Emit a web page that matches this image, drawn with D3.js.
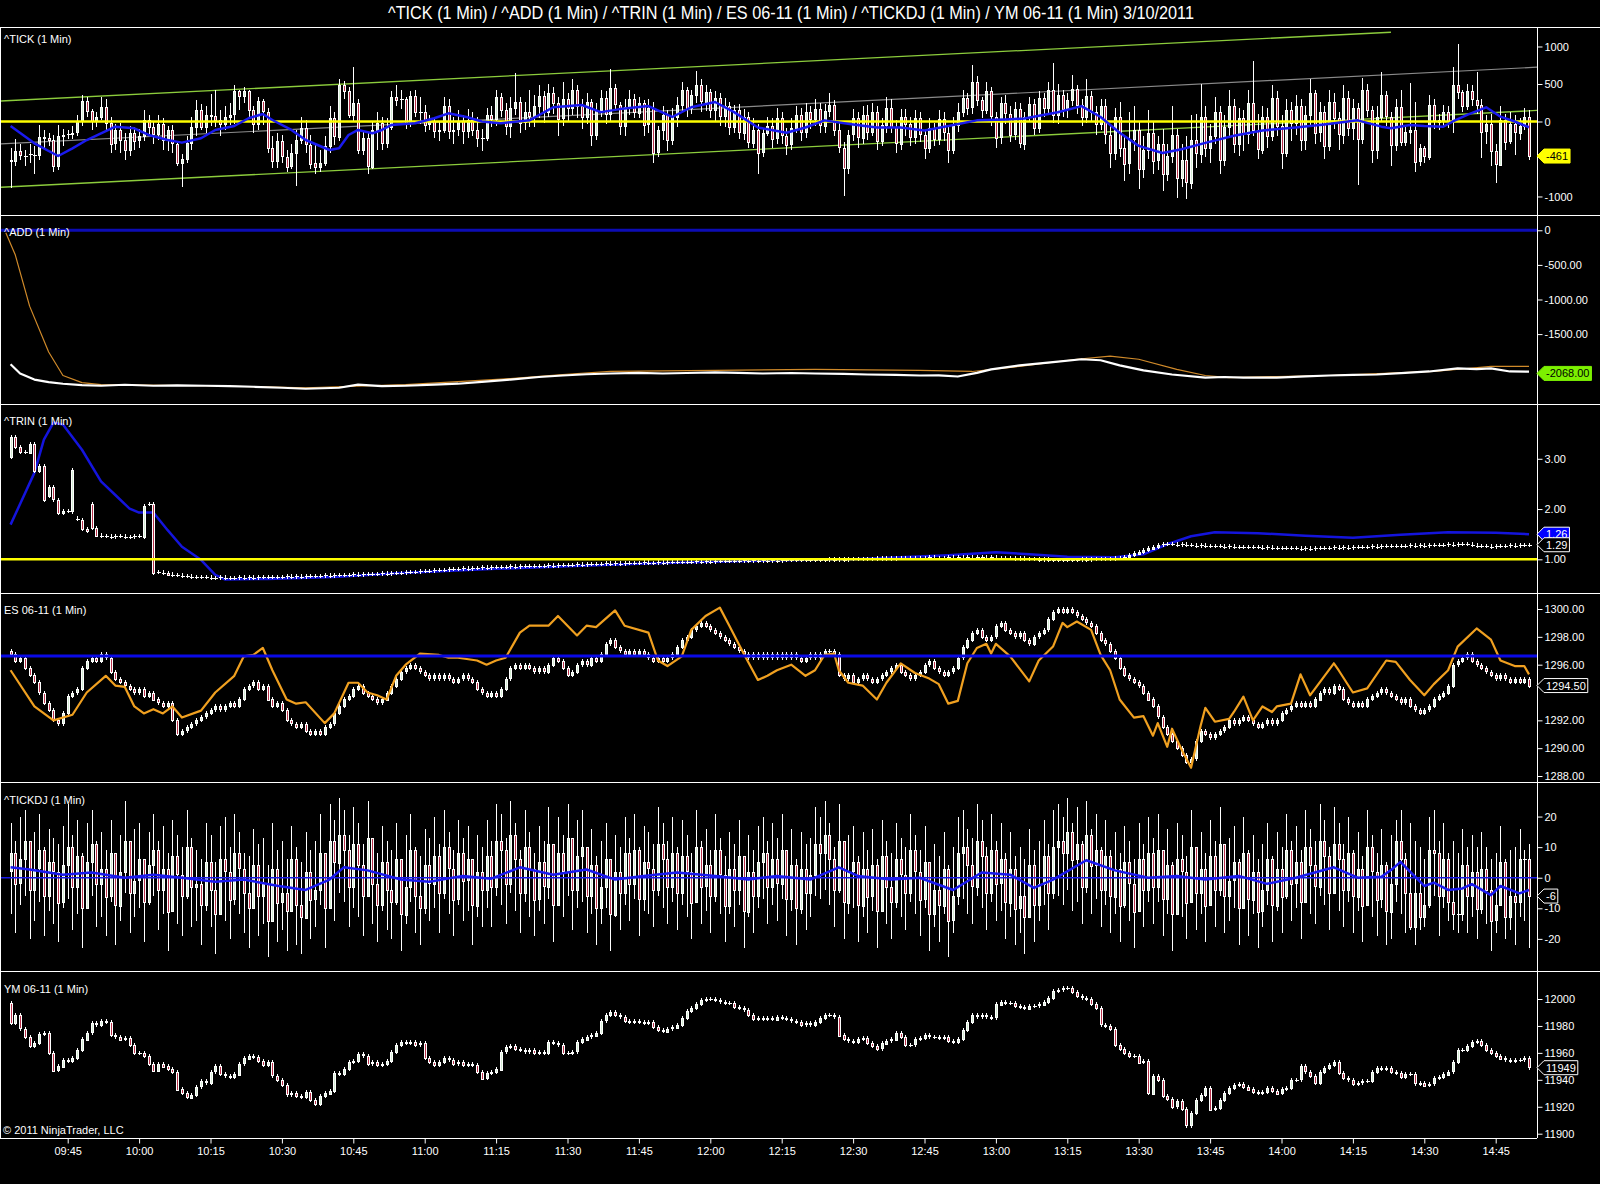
<!DOCTYPE html>
<html><head><meta charset="utf-8">
<script src="https://cdn.jsdelivr.net/npm/d3@7"></script>
<style>
html,body{margin:0;padding:0;background:#000;}
svg{display:block;}
text{font-family:"Liberation Sans",Arial,sans-serif;}
</style></head><body>
<svg id="c" width="1600" height="1184"></svg>
<script>
// ---------------- DATA (1-minute bars, 09:33 .. 14:52) ----------------
const firstBar = "09:33";
const titleText = "^TICK (1 Min) / ^ADD (1 Min) / ^TRIN (1 Min) / ES 06-11 (1 Min) / ^TICKDJ (1 Min) / YM 06-11 (1 Min)  3/10/2011";
const panelNames = ["^TICK (1 Min)","^ADD (1 Min)","^TRIN (1 Min)","ES 06-11 (1 Min)","^TICKDJ (1 Min)","YM 06-11 (1 Min)"];
const xTickTimes = ["09:45","10:00","10:15","10:30","10:45","11:00","11:15","11:30","11:45","12:00","12:15","12:30","12:45","13:00","13:15","13:30","13:45","14:00","14:15","14:30","14:45"];

// ^TICK
const tickFirstOpen = -510;
const tickClose = [
-530,-400,-450,-455,-440,-445,-205,-225,-250,-600,
-200,-180,-170,-150,0,270,135,0,60,190,
-20,-300,-120,-250,-380,-150,-260,-200,20,-80,
-180,-40,-250,-120,-300,-555,-500,-290,-70,155,
-70,90,70,20,-40,60,90,400,330,400,
150,-40,270,130,-355,-530,-265,-470,-600,-420,
-245,-90,-310,-560,-620,-560,-330,45,-200,490,
410,90,245,-380,-220,-600,-110,-20,-290,-70,
333,290,300,-22,340,133,130,-44,0,-130,
-110,210,-130,-110,0,-130,20,-110,-220,-220,
90,30,320,150,-60,180,260,-20,120,60,
200,340,120,380,250,40,300,180,420,210,
60,260,-180,150,310,90,440,220,-60,190,
300,120,250,-40,180,-420,-120,80,-250,60,
220,420,180,350,480,260,390,150,310,70,
200,-80,150,-150,60,-280,-110,-420,-160,-60,
-230,40,-190,-310,-90,80,-150,120,20,160,
-60,140,220,-120,-350,-620,-180,40,-220,90,
-140,130,-260,-50,180,-80,-300,60,-40,-220,
40,-180,-360,-90,-240,30,-150,-380,-60,120,
310,180,520,280,150,400,60,-220,240,100,
-180,160,-300,60,230,-90,310,180,420,80,
350,160,280,430,220,60,340,120,-40,200,
-180,-420,60,-350,-560,-240,-120,-640,-380,-150,
-520,-300,-700,-460,-180,-760,-520,-820,-250,-430,
60,-360,-200,120,-520,-80,200,-310,40,-180,
240,-120,-380,60,-200,310,-60,-420,150,-30,
200,-250,80,380,-150,120,-330,260,40,-180,
310,-90,180,-230,420,150,-380,60,350,66,
-311,198,-271,-140,-110,-540,-360,-470,220,22,
0,120,0,480,390,200,400,290,220,-140,
-40,-400,-580,20,-270,-40,-150,-60,60,-461];
const tickHigh = [
-350,-240,-300,-380,-300,-330,-45,-120,-150,-180,
-45,-100,-110,-60,90,355,330,160,130,330,
300,60,-40,-20,-160,-60,-80,-100,150,80,
0,80,40,-60,-50,-260,-440,-200,60,280,
230,200,360,420,150,200,250,480,420,460,
420,200,320,300,180,-200,-150,-180,-380,-300,
-120,60,20,-180,-300,-380,-200,200,120,560,
540,460,730,300,-120,-150,0,120,60,40,
400,490,420,330,400,420,330,220,80,40,
0,320,300,60,150,80,160,120,60,-100,
180,200,420,380,250,330,650,330,260,420,
350,480,400,500,460,330,520,380,560,480,
300,380,300,240,420,400,700,500,260,300,
420,360,330,280,300,260,-60,200,150,180,
330,520,460,420,670,560,480,430,400,380,
310,260,220,230,160,120,50,-40,-90,60,
40,180,120,-90,40,200,180,250,200,300,
250,230,380,280,0,-280,-120,160,120,200,
220,250,200,50,320,300,20,170,160,60,
150,130,-100,40,-20,150,120,-60,60,250,
420,380,750,600,330,520,460,120,320,350,
200,260,240,120,330,300,400,380,520,780,
500,420,380,620,480,300,560,400,200,300,
300,-60,180,260,-200,120,200,0,-200,150,
0,-200,-100,-300,200,-100,-300,-200,80,100,
500,200,-40,320,200,80,420,300,180,150,
420,800,100,200,180,480,400,80,300,260,
350,300,200,560,420,260,200,420,380,120,
480,400,300,250,580,500,200,200,664,400,
120,300,420,-50,509,265,-300,-330,350,300,
100,220,200,730,1030,420,500,480,660,300,
80,100,-300,200,100,120,80,50,180,150];
const tickLow = [
-890,-600,-520,-600,-560,-700,-520,-380,-330,-680,
-650,-330,-240,-230,-200,-60,60,-120,-80,20,
-120,-420,-380,-420,-520,-460,-380,-350,-260,-200,
-300,-250,-380,-400,-420,-600,-870,-560,-380,-200,
-120,-150,-60,-80,-200,-120,-50,-40,150,250,
60,-160,-120,-50,-420,-620,-620,-560,-680,-640,
-866,-300,-420,-640,-700,-680,-600,-420,-320,-260,
300,40,0,-440,-450,-700,-640,-380,-380,-360,
-120,200,160,-100,-80,60,-40,-140,-120,-220,
-260,-160,-240,-300,-200,-300,-220,-200,-340,-400,
-260,-80,-60,60,-180,-220,80,-150,-120,-70,
-80,40,-20,60,100,-200,-60,0,80,50,
-100,-40,-330,-250,60,-40,0,140,-180,-200,
80,40,40,-200,-150,-550,-480,-250,-400,-320,
-80,120,60,100,240,120,140,40,0,-60,
-80,-180,-160,-240,-250,-360,-350,-700,-480,-200,
-350,-300,-300,-450,-380,-160,-260,-220,-100,-60,
-150,-150,60,-200,-420,-990,-700,-260,-350,-300,
-250,-200,-380,-330,-150,-160,-420,-380,-200,-330,
-300,-280,-500,-420,-330,-320,-260,-560,-440,-140,
60,80,100,200,40,100,-60,-350,-300,-40,
-280,-250,-350,-380,0,-180,-160,60,100,-20,
-30,60,40,200,100,-60,-20,0,-180,-120,
-300,-620,-520,-480,-800,-700,-400,-900,-760,-500,
-700,-650,-930,-800,-560,-1020,-880,-1040,-900,-620,
-560,-480,-560,-300,-700,-600,-200,-420,-460,-400,
-300,-200,-500,-440,-350,-260,-200,-640,-480,-260,
-180,-400,-380,-60,-300,-280,-500,-400,-100,-380,
-300,-200,-250,-850,-300,60,-550,-500,0,-60,
-600,-400,-330,-330,-300,-670,-600,-560,-520,-100,
-120,-60,-90,-150,300,120,150,200,100,-490,
-300,-600,-820,-600,-380,-300,-450,-250,-120,-520];
const tickMaTime = ["09:33","09:38","09:43","09:46","09:49","09:52","09:55","09:59","10:02","10:06","10:09","10:13","10:16","10:20","10:23","10:26","10:28","10:32","10:35","10:40","10:42","10:44","10:46","10:49","10:51","10:53","10:58","11:02","11:05","11:09","11:12","11:16","11:22","11:27","11:33","11:37","11:41","11:47","11:52","11:56","12:01","12:05","12:10","12:16","12:20","12:24","12:30","12:35","12:40","12:45","12:50","12:56","13:02","13:06","13:13","13:18","13:22","13:26","13:30","13:35","13:39","13:44","13:50","13:56","14:03","14:09","14:16","14:21","14:23","14:27","14:30","14:34","14:36","14:39","14:43","14:46","14:49","14:52"];
const tickMaValue = [-60,-291,-460,-358,-247,-158,-69,-91,-180,-247,-282,-224,-113,-60,43,100,20,-113,-247,-380,-358,-180,-113,-158,-113,-47,-24,43,109,56,0,-24,15,190,220,125,165,205,60,190,260,125,-80,-150,-80,15,-40,-80,-80,-120,-60,15,28,40,124,205,60,-150,-325,-420,-370,-285,-190,-120,-80,-40,15,-69,-91,-47,-60,-69,0,87,189,64,0,-77];
const tickChannelTime = ["09:30","14:54"];
const tickUpperChannel = [270, 1287];
const tickUpperEnd = "14:23";
const tickMidChannel = [-303, 725];
const tickLowerChannel = [-880, 148];
const tickZero = 0;
const tickLast = -461;

// ^ADD
const addTime = ["09:33","09:35","09:38","09:41","09:44","09:48","09:52","09:57","10:03","10:08","10:14","10:19","10:24","10:30","10:35","10:42","10:46","10:51","10:56","11:02","11:07","11:12","11:18","11:24","11:29","11:34","11:39","11:45","11:50","11:55","12:01","12:06","12:11","12:17","12:22","12:28","12:33","12:39","12:44","12:48","12:52","12:56","12:59","13:05","13:12","13:18","13:22","13:26","13:31","13:37","13:44","13:48","13:52","13:59","14:05","14:10","14:15","14:20","14:26","14:31","14:37","14:41","14:44","14:48","14:52"];
const addValue = [-1936,-2069,-2157,-2195,-2217,-2238,-2246,-2232,-2246,-2240,-2246,-2252,-2261,-2275,-2290,-2275,-2231,-2252,-2246,-2230,-2217,-2190,-2157,-2120,-2098,-2080,-2069,-2060,-2069,-2062,-2054,-2060,-2069,-2062,-2069,-2075,-2084,-2090,-2098,-2095,-2113,-2060,-2010,-1951,-1906,-1863,-1878,-1951,-2025,-2084,-2128,-2120,-2128,-2128,-2110,-2098,-2090,-2084,-2060,-2040,-1996,-2005,-1996,-2040,-2043];
const addAvgTime = ["09:32","09:34","09:37","09:41","09:44","09:48","09:52","10:14","10:35","10:56","11:18","11:29","11:39","12:01","12:22","12:44","12:55","13:05","13:17","13:24","13:30","13:38","13:44","13:49","13:59","14:10","14:32","14:44","14:52"];
const addAvgValue = [-35,-358,-1096,-1759,-2098,-2202,-2231,-2246,-2275,-2231,-2142,-2084,-2040,-2025,-2010,-2025,-2040,-1966,-1863,-1818,-1863,-2010,-2098,-2128,-2113,-2098,-2040,-1966,-1966];
const addZero = 0;
const addLast = -2068;

// ^TRIN
const trinOpenEarly = [3.03,3.43,3.23,3.13,3.13,3.30,2.76,2.86,2.26,2.43,2.19,1.93,1.97,1.95,1.82,1.78,1.60,2.10,1.63,1.48,1.47,1.46,1.45,1.46,1.46,1.44,1.45,1.46,1.45,2.10,2.10,0.74];
const trinClose = [
3.43,3.23,3.13,3.13,3.30,2.76,2.86,2.19,2.43,2.19,
1.93,1.97,1.97,2.77,1.80,1.60,1.57,1.62,1.48,1.47,
1.46,1.45,1.46,1.46,1.44,1.45,1.46,1.47,2.07,2.10,
0.72,0.75,0.73,0.70,0.69,0.68,0.66,0.67,0.65,0.64,
0.65,0.64,0.63,0.63,0.64,0.63,0.62,0.63,0.64,0.63,
0.64,0.63,0.64,0.65,0.64,0.65,0.64,0.65,0.66,0.65,
0.66,0.65,0.66,0.67,0.66,0.67,0.68,0.67,0.68,0.69,
0.68,0.69,0.70,0.69,0.70,0.71,0.70,0.71,0.72,0.71,
0.72,0.73,0.72,0.74,0.75,0.74,0.76,0.77,0.76,0.78,
0.79,0.78,0.80,0.81,0.80,0.82,0.81,0.83,0.82,0.84,
0.83,0.84,0.85,0.84,0.85,0.86,0.85,0.86,0.87,0.86,
0.87,0.86,0.87,0.88,0.87,0.88,0.89,0.88,0.89,0.90,
0.89,0.90,0.91,0.90,0.91,0.92,0.91,0.92,0.91,0.92,
0.93,0.92,0.93,0.94,0.92,0.93,0.94,0.93,0.94,0.95,
0.94,0.95,0.94,0.95,0.96,0.95,0.96,0.95,0.96,0.97,
0.96,0.97,0.96,0.97,0.98,0.97,0.98,0.97,0.98,0.97,
0.98,0.97,0.98,0.99,0.98,0.99,0.98,0.99,0.98,0.99,
0.98,0.99,1.00,0.99,1.00,0.99,1.00,1.01,1.00,1.01,
1.00,1.01,1.02,1.01,1.02,1.01,1.02,1.03,1.02,1.03,
1.02,1.03,1.02,1.04,1.03,1.02,1.03,1.04,1.03,1.04,
1.03,1.04,1.03,1.05,1.04,1.03,1.04,1.03,1.02,1.03,
1.02,1.01,1.02,1.01,1.00,1.01,0.99,1.00,0.99,0.98,
0.99,0.98,0.99,0.98,0.99,1.00,0.99,1.00,1.01,1.00,
1.01,1.00,1.02,1.03,1.05,1.08,1.12,1.15,1.19,1.22,
1.25,1.28,1.30,1.31,1.30,1.29,1.30,1.28,1.29,1.27,
1.28,1.27,1.26,1.27,1.26,1.25,1.26,1.25,1.24,1.25,
1.24,1.25,1.24,1.23,1.24,1.23,1.22,1.23,1.22,1.23,
1.22,1.21,1.22,1.21,1.22,1.23,1.22,1.23,1.24,1.23,
1.24,1.23,1.24,1.25,1.24,1.25,1.26,1.25,1.26,1.27,
1.26,1.27,1.26,1.27,1.28,1.27,1.28,1.27,1.28,1.29,
1.28,1.29,1.30,1.29,1.30,1.31,1.30,1.29,1.27,1.26,
1.27,1.25,1.26,1.27,1.26,1.28,1.27,1.28,1.28,1.29];
const trinLineTime = ["09:33","09:38","09:40","09:42","09:44","09:48","09:52","09:55","09:58","10:00","10:03","10:06","10:09","10:13","10:16","10:18","10:27","10:41","10:55","11:15","11:30","11:45","12:00","12:15","12:30","12:40","12:50","13:00","13:07","13:15","13:25","13:31","13:36","13:41","13:46","13:55","14:05","14:15","14:25","14:35","14:45","14:52"];
const trinLineValue = [1.69,2.72,3.38,3.72,3.68,3.18,2.55,2.28,2.01,1.93,1.93,1.58,1.25,0.99,0.69,0.60,0.61,0.65,0.73,0.81,0.86,0.91,0.95,0.98,1.00,1.04,1.08,1.14,1.10,1.05,1.04,1.10,1.30,1.46,1.54,1.52,1.47,1.43,1.49,1.54,1.53,1.50];
const trinLevel = 1.0;
const trinLineTag = "1.26";
const trinLast = 1.29;

// ES 06-11
const esFirstOpen = 1297.0;
const esClose = [
1296.75,1296.25,1296.5,1295.75,1295.25,1294.75,1294,1293.25,1292.75,1292,
1291.75,1292.5,1293.75,1294,1294.25,1295.75,1296.25,1296.5,1296.25,1296.75,
1296.5,1295.5,1295,1294.75,1294.5,1294.25,1294,1294.25,1293.75,1294,
1293.5,1293.25,1293,1293.25,1292,1291,1291.25,1291.5,1291.75,1292,
1292.25,1292.5,1292.75,1293,1292.75,1293,1293.25,1293,1293.5,1294.25,
1294.5,1294.75,1294.25,1294.5,1293.5,1293,1293.25,1292.75,1292,1291.75,
1291.5,1291.75,1291.25,1291,1291.25,1291,1291.5,1291.75,1292.5,1293,
1293.5,1293.75,1294.25,1294.5,1294,1293.75,1293.5,1293.25,1293.5,1294,
1294.5,1295,1295.5,1295.75,1296,1295.75,1295.5,1295.25,1295,1295.25,
1295,1295.25,1295,1294.75,1295,1295.25,1295,1294.75,1294.25,1294,
1293.75,1294,1293.75,1294.25,1295,1295.75,1296,1295.75,1296,1295.75,
1295.5,1295.75,1295.5,1296,1296.5,1296.25,1295.75,1295.25,1295.5,1296,
1296.25,1296,1296.5,1296.25,1296.75,1297.5,1297.75,1297.25,1297,1296.75,
1297,1296.75,1297,1296.75,1296.5,1296.25,1296.5,1296.25,1296.5,1296.75,
1297.25,1297.75,1298,1298.5,1298.75,1299,1298.75,1298.5,1298.25,1298,
1297.75,1297.5,1297.25,1297,1296.75,1296.5,1296.75,1296.5,1296.75,1296.5,
1296.75,1296.5,1296.75,1296.5,1296.75,1296.5,1296.25,1296.5,1296.75,1296.5,
1296.75,1297,1297,1296.75,1295.25,1295,1295.25,1294.75,1295,1295.25,
1295,1294.75,1295,1295.25,1295.5,1295.75,1296,1295.5,1295.25,1295,
1295.25,1295.5,1296,1296.25,1295.75,1295.5,1295.25,1295.5,1295.75,1296.5,
1297.25,1297.75,1298.25,1298.5,1298,1297.75,1298,1298.75,1299,1298.5,
1298.25,1298,1298.25,1297.75,1297.5,1298,1298.25,1298.5,1299.25,1299.75,
1300,1299.75,1300,1299.75,1299.5,1299.25,1299,1298.75,1298.25,1297.75,
1297.5,1297,1296.5,1295.75,1295.25,1295,1294.75,1294.5,1294,1293.5,
1293,1292.25,1291.5,1291,1290.5,1290,1289.5,1289,1289.25,1290.5,
1291.25,1291,1290.75,1291,1291.25,1291.5,1292,1291.75,1292,1292.25,
1292,1291.75,1291.5,1291.75,1292,1291.75,1292,1292.5,1292.75,1293,
1293.25,1293,1293.25,1293,1293.5,1294,1294.25,1294,1294.5,1294.25,
1293.5,1293.25,1293,1293.25,1293,1293.5,1293.75,1294,1294.25,1294,
1293.75,1293.5,1293.25,1293.5,1293,1292.75,1292.5,1292.75,1293,1293.5,
1293.75,1294,1294.5,1296,1296.25,1296.5,1296.75,1296.25,1296,1295.75,
1295.5,1295.25,1295,1295.25,1295,1294.75,1295,1294.75,1295,1294.5];
const esOverlayTime = ["09:33","09:38","09:42","09:46","09:49","09:53","09:55","09:57","09:59","10:01","10:03","10:05","10:07","10:09","10:13","10:16","10:20","10:22","10:24","10:26","10:28","10:31","10:33","10:35","10:39","10:41","10:44","10:46","10:48","10:50","10:52","10:54","10:56","10:59","11:03","11:05","11:07","11:11","11:13","11:15","11:17","11:20","11:22","11:26","11:28","11:32","11:34","11:36","11:40","11:42","11:47","11:49","11:51","11:54","11:56","11:59","12:02","12:04","12:07","12:10","12:12","12:14","12:17","12:20","12:22","12:24","12:26","12:27","12:29","12:32","12:35","12:37","12:40","12:43","12:46","12:48","12:50","12:52","12:54","12:56","12:58","12:59","13:00","13:03","13:07","13:09","13:12","13:14","13:15","13:17","13:20","13:22","13:24","13:26","13:29","13:31","13:33","13:34","13:36","13:37","13:39","13:41","13:43","13:44","13:46","13:49","13:50","13:52","13:54","13:56","13:58","13:59","14:02","14:04","14:06","14:11","14:12","14:15","14:18","14:22","14:24","14:27","14:30","14:32","14:35","14:37","14:41","14:44","14:46","14:49","14:51","14:52"];
const esOverlayValue = [1295.6,1293.0,1292.0,1292.4,1294.0,1295.2,1294.5,1294.4,1293.0,1292.5,1292.8,1292.5,1293.0,1292.2,1292.7,1294.0,1295.2,1296.6,1296.7,1297.2,1295.6,1293.5,1293.2,1293.3,1291.8,1292.5,1294.7,1294.7,1294.0,1293.8,1293.5,1295.2,1296.0,1296.8,1296.7,1296.5,1296.5,1296.3,1296.0,1296.3,1296.5,1298.3,1298.8,1298.8,1299.5,1298.1,1298.8,1298.7,1299.9,1298.8,1298.3,1296.3,1295.9,1296.6,1298.5,1299.5,1300.1,1298.8,1296.8,1294.9,1295.2,1295.6,1296.0,1295.2,1295.6,1296.7,1296.8,1295.6,1294.7,1294.5,1293.5,1294.7,1296.1,1295.4,1295.0,1294.6,1293.2,1293.4,1296.1,1297.2,1297.5,1296.8,1297.5,1296.6,1294.8,1296.3,1297.3,1299.0,1298.7,1299.1,1298.5,1296.7,1295.6,1293.5,1292.2,1292.3,1290.9,1291.8,1290.1,1291.4,1289.9,1288.6,1291.6,1292.9,1291.9,1292.1,1292.6,1293.7,1292.0,1293.0,1292.6,1293.0,1293.2,1295.3,1293.8,1296.1,1295.6,1294.0,1294.3,1296.3,1296.2,1294.9,1293.8,1294.6,1295.6,1297.3,1298.6,1297.8,1296.3,1295.9,1295.9,1295.3];
const esLevel = 1296.63;
const esLast = "1294.50";

// ^TICKDJ
const tickdjFirstOpen = 2;
const tickdjClose = [
8,-2,6,12,-4,3,9,-6,5,2,
-8,4,10,-3,7,-10,5,11,-2,3,
-6,8,-9,2,12,-5,-1,6,-8,4,
9,-4,3,-11,7,1,-6,10,-3,-2,
-9,5,-4,-12,6,2,-7,8,3,-5,
-10,4,-6,-2,-14,3,-8,-5,-11,6,
-9,-13,2,-7,-4,8,-10,12,5,14,
9,-3,11,4,-6,13,-2,-9,5,-4,
-8,6,-12,-3,9,-6,-10,4,-2,7,
-5,10,3,-7,8,-1,6,-9,2,-4,
7,-3,12,9,-2,14,6,-5,10,3,
-7,5,-3,11,-9,8,2,13,-4,7,
10,-6,4,-10,-3,6,-12,2,-5,8,
-2,9,-7,5,3,-4,11,6,-3,8,
-5,7,2,-8,10,-3,4,-6,9,1,
-9,3,-4,7,-11,2,-6,5,8,-3,
6,-2,9,-7,4,-10,3,-5,1,11,
8,14,6,-4,12,-8,2,5,-9,3,
-6,4,-11,7,-3,-8,6,1,-5,9,
2,-7,5,-12,-4,-9,3,-14,-6,8,
10,4,-3,12,7,-5,9,-2,6,-8,
3,-10,-6,-13,4,-9,-2,7,-5,10,
12,8,15,6,11,-3,14,4,9,-4,
7,-6,3,-9,5,-2,-11,6,-4,8,
-3,9,-7,4,-12,6,2,-8,10,-5,
3,-9,7,-4,11,-6,-1,5,-10,8,
-7,2,-11,-4,6,-9,3,-6,9,-2,
5,-8,10,4,-3,12,7,-5,11,6,
-4,8,-6,3,-9,10,2,-7,4,-11,
-2,12,6,-5,-16,-5,-13,-9,9,8,
-6,6,-8,-12,-12,4,-6,2,-10,3,
-4,-14,-9,5,-13,-6,-8,6,6,-6];
const tickdjHigh = [
18,12,20,22,9,15,21,10,16,13,
11,17,24,14,19,8,18,22,12,15,
9,19,7,14,25,11,16,18,6,15,
21,12,17,8,19,14,10,22,13,9,
6,18,14,5,17,20,10,21,15,8,
7,16,11,13,4,18,9,12,6,17,
10,5,15,9,12,21,7,24,19,26,
22,14,23,18,11,25,13,8,17,12,
9,18,6,14,21,10,7,16,13,20,
11,22,15,9,19,13,17,6,14,10,
19,12,24,21,13,25,18,9,22,15,
8,17,12,23,10,20,14,24,11,19,
22,9,16,7,12,18,5,14,10,20,
13,21,10,17,15,11,23,18,12,20,
10,19,14,8,22,12,16,9,21,13,
7,15,11,19,5,14,9,17,20,12,
18,13,21,8,16,6,15,11,13,23,
20,25,18,10,24,9,14,17,7,15,
9,16,6,19,12,8,18,13,10,21,
14,9,17,5,11,7,15,4,10,20,
22,16,13,24,19,10,21,12,18,8,
15,7,10,6,16,9,12,19,11,22,
24,20,26,18,23,12,25,16,21,10,
19,9,15,8,17,12,6,18,11,20,
13,21,9,16,5,18,14,7,22,10,
15,8,19,12,23,9,13,17,6,20,
9,14,6,11,18,7,15,10,21,12,
17,9,22,16,12,24,19,10,23,18,
11,20,9,15,7,22,14,8,16,5,
14,19,22,8,18,12,10,6,20,22,
12,18,8,12,8,16,10,14,10,15,
10,6,8,17,6,9,10,16,9,11];
const tickdjLow = [
-12,-18,-9,-6,-20,-14,-8,-19,-11,-15,
-21,-10,-7,-17,-12,-23,-9,-6,-16,-13,
-19,-8,-22,-14,-5,-18,-13,-10,-21,-9,
-6,-17,-12,-24,-9,-15,-19,-7,-16,-14,
-22,-11,-16,-25,-8,-14,-20,-9,-12,-18,
-23,-10,-19,-15,-26,-12,-21,-17,-24,-8,
-22,-25,-13,-20,-16,-9,-23,-7,-14,-5,
-8,-16,-10,-13,-19,-6,-15,-21,-11,-17,
-20,-9,-24,-15,-8,-18,-22,-12,-14,-10,
-18,-7,-12,-19,-9,-14,-11,-22,-13,-16,
-10,-16,-6,-9,-15,-5,-11,-18,-8,-13,
-19,-11,-15,-7,-21,-9,-13,-6,-17,-10,
-8,-18,-12,-22,-15,-10,-24,-13,-17,-9,
-14,-7,-19,-11,-12,-16,-6,-10,-15,-8,
-17,-9,-13,-20,-7,-15,-11,-18,-8,-12,
-21,-12,-16,-9,-23,-13,-18,-10,-7,-15,
-9,-14,-7,-19,-11,-22,-12,-17,-13,-6,
-7,-4,-9,-16,-5,-20,-12,-10,-21,-13,
-18,-11,-23,-9,-15,-20,-10,-13,-17,-8,
-12,-19,-10,-24,-16,-21,-12,-26,-18,-9,
-7,-12,-15,-6,-10,-17,-8,-14,-11,-20,
-13,-22,-18,-25,-11,-21,-14,-9,-17,-7,
-6,-9,-4,-11,-8,-15,-5,-12,-7,-16,
-9,-18,-12,-21,-10,-14,-23,-11,-16,-8,
-15,-8,-19,-12,-24,-10,-13,-20,-7,-17,
-12,-21,-9,-16,-6,-18,-14,-10,-22,-8,
-19,-12,-23,-16,-9,-21,-11,-18,-7,-14,
-10,-20,-7,-12,-15,-6,-9,-17,-5,-11,
-16,-8,-18,-11,-21,-7,-13,-19,-10,-22,
-20,-8,-12,-18,-17,-22,-17,-16,-10,-6,
-19,-10,-14,-17,-18,-14,-18,-13,-20,-12,
-15,-24,-18,-8,-20,-17,-22,-13,-14,-23];
const tickdjMaTime = ["09:33","09:37","09:44","09:50","09:57","10:03","10:09","10:16","10:22","10:29","10:35","10:40","10:43","10:48","10:55","11:01","11:08","11:14","11:20","11:27","11:34","11:40","11:46","11:53","12:01","12:08","12:14","12:21","12:27","12:31","12:38","12:44","12:51","12:57","13:03","13:08","13:12","13:19","13:25","13:32","13:38","13:44","13:51","13:57","14:03","14:11","14:16","14:21","14:23","14:25","14:27","14:30","14:32","14:35","14:38","14:40","14:44","14:46","14:50","14:52"];
const tickdjMaValue = [3.4,2.7,1,1.7,0,1,0,-1.3,-0.6,-2.6,-4,-0.6,3.4,2.4,-0.6,-1.3,0.6,-0.3,3.4,1,2.7,-0.6,0.6,1.7,0.6,-0.6,0.6,-0.6,3.4,0.6,-0.6,0,-4,1.7,1,-3.3,-0.6,5.7,2.4,0,0.6,-0.6,0.6,-2,0,3.4,0,0.3,2.5,5.2,2,-2.7,-1.6,-4,-3.5,-2.1,-5.7,-2.7,-5.1,-4];
const tickdjZero = 0;
const tickdjLast = -6;

// YM 06-11
const ymFirstOpen = 11997;
const ymClose = [
11982,11988,11978,11972,11965,11967,11974,11975,11960,11947,
11950,11955,11954,11956,11962,11970,11975,11982,11981,11984,
11983,11973,11972,11970,11971,11966,11960,11960,11958,11952,
11947,11952,11950,11948,11946,11933,11930,11927,11929,11935,
11939,11938,11946,11950,11944,11943,11942,11944,11952,11956,
11958,11957,11954,11951,11953,11943,11940,11936,11929,11930,
11928,11927,11931,11925,11922,11928,11930,11932,11945,11944,
11948,11953,11954,11959,11958,11952,11953,11951,11952,11954,
11961,11966,11968,11967,11968,11966,11967,11956,11953,11951,
11953,11956,11955,11952,11953,11951,11952,11951,11946,11941,
11945,11946,11948,11961,11964,11965,11963,11962,11961,11962,
11960,11961,11960,11968,11967,11966,11960,11960,11961,11968,
11970,11972,11973,11975,11984,11988,11990,11988,11987,11984,
11983,11984,11983,11982,11983,11979,11977,11976,11978,11979,
11981,11986,11991,11993,11996,11999,12000,12000,11999,11998,
11997,11997,11994,11993,11992,11988,11985,11986,11985,11986,
11985,11987,11986,11985,11984,11983,11981,11982,11981,11983,
11986,11988,11988,11987,11973,11970,11969,11968,11970,11971,
11967,11965,11963,11967,11969,11970,11975,11972,11966,11966,
11970,11971,11973,11972,11972,11971,11972,11969,11968,11970,
11977,11983,11988,11987,11988,11987,11986,11996,11998,11997,
11997,11995,11994,11993,11995,11995,11996,11998,12001,12006,
12007,12008,12008,12005,12002,12001,12000,11996,11993,11981,
11980,11978,11966,11963,11960,11958,11958,11953,11954,11930,
11943,11940,11928,11926,11920,11924,11918,11906,11915,11925,
11929,11934,11918,11919,11925,11930,11934,11936,11937,11935,
11933,11931,11930,11931,11934,11932,11930,11933,11934,11940,
11940,11950,11946,11943,11938,11946,11949,11951,11953,11945,
11941,11940,11937,11938,11939,11939,11946,11949,11948,11949,
11946,11945,11942,11944,11944,11937,11938,11936,11937,11941,
11942,11944,11946,11953,11962,11962,11965,11968,11969,11966,
11962,11960,11958,11956,11955,11954,11955,11955,11956,11949];
const ymLast = "11949";

// ---------------- DRAWING ----------------
const T = s => { const p = s.split(":").map(Number); return new Date(2011, 2, 10, p[0], p[1], p[2] || 0); };
const t0 = T(firstBar);
const barTime = i => d3.timeMinute.offset(t0, i);
const PLOT_R = 1537;
const x = d3.scaleTime().domain([T("09:45"), T("14:45")]).range([67.7, 1495.7]);

const UP_FILL = "#d2ecd2", DOWN_FILL = "#b8304a", WICK = "#ffffff";

const svg = d3.select("#c");
svg.append("rect").attr("width", 1600).attr("height", 1184).attr("fill", "#000");
const defs = svg.append("defs");

const panelDefs = [
  {top: 27, bottom: 215, vTop: 1260, vBot: -1247, ly: 43},
  {top: 215, bottom: 404, vTop: 221, vBot: -2510, ly: 236},
  {top: 404, bottom: 593, vTop: 4.09, vBot: 0.33, ly: 425},
  {top: 593, bottom: 782, vTop: 1301.15, vBot: 1287.57, ly: 614},
  {top: 782, bottom: 971, vTop: 31.3, vBot: -30.5, ly: 804},
  {top: 971, bottom: 1138, vTop: 12020.8, vBot: 11896.8, ly: 993}
];
const panels = panelDefs.map((p, k) => {
  const y = d3.scaleLinear().domain([p.vBot, p.vTop]).range([p.bottom, p.top]);
  defs.append("clipPath").attr("id", "clip" + k).append("rect")
    .attr("x", 1).attr("y", p.top + 1).attr("width", PLOT_R - 1).attr("height", p.bottom - p.top - 1);
  const g = svg.append("g").attr("clip-path", `url(#clip${k})`);
  return Object.assign({}, p, {y, g});
});

function lineAt(g, y, times, values, color, width) {
  const pts = times.map((t, i) => [T(t), values[i]]);
  g.append("path").datum(pts)
    .attr("d", d3.line().x(d => x(d[0])).y(d => y(d[1])))
    .attr("fill", "none").attr("stroke", color).attr("stroke-width", width)
    .attr("stroke-linejoin", "round");
}
function hLine(g, y, v, color, width) {
  g.append("line").attr("x1", 0).attr("x2", PLOT_R).attr("y1", y(v)).attr("y2", y(v))
    .attr("stroke", color).attr("stroke-width", width);
}
function candles(g, y, close, opens, high, low) {
  const data = close.map((c, i) => {
    const o = opens[i];
    const hi = high ? Math.max(high[i], o, c) : null;
    const lo = low ? Math.min(low[i], o, c) : null;
    return {t: barTime(i), o, c, hi, lo};
  });
  const cg = g.append("g").attr("shape-rendering", "crispEdges");
  data.forEach(d => {
    const cx = Math.round(x(d.t)) + 0.5;
    const yo = y(d.o), yc = y(d.c);
    const top = Math.min(yo, yc), bot = Math.max(yo, yc);
    const yh = d.hi !== null ? y(d.hi) : top - 2;
    const yl = d.lo !== null ? y(d.lo) : bot + 2;
    cg.append("line").attr("x1", cx).attr("x2", cx).attr("y1", yh).attr("y2", yl)
      .attr("stroke", WICK).attr("stroke-width", 1);
    if (bot - top < 1.2) {
      cg.append("line").attr("x1", cx - 2).attr("x2", cx + 2)
        .attr("y1", Math.round(yc) + 0.5).attr("y2", Math.round(yc) + 0.5)
        .attr("stroke", WICK).attr("stroke-width", 1);
    } else {
      cg.append("rect").attr("x", cx - 1).attr("y", Math.round(top) + 0.5)
        .attr("width", 2).attr("height", Math.max(1, Math.round(bot - top)))
        .attr("fill", d.c > d.o ? UP_FILL : DOWN_FILL).attr("stroke", WICK).attr("stroke-width", 1);
    }
  });
}
const openFrom = (close, first) => close.map((c, i) => i === 0 ? first : close[i - 1]);

// --- TICK panel ---
{
  const P = panels[0], g = P.g, y = P.y;
  const chT = [T(tickChannelTime[0]), T(tickChannelTime[1])];
  const slopeU = (tickUpperChannel[1] - tickUpperChannel[0]) / (chT[1] - chT[0]);
  const uEnd = T(tickUpperEnd);
  g.append("line").attr("x1", x(chT[0])).attr("y1", y(tickUpperChannel[0]))
    .attr("x2", x(uEnd)).attr("y2", y(tickUpperChannel[0] + slopeU * (uEnd - chT[0])))
    .attr("stroke", "#8ccc3c").attr("stroke-width", 1.3);
  g.append("line").attr("x1", x(chT[0])).attr("y1", y(tickMidChannel[0]))
    .attr("x2", x(chT[1])).attr("y2", y(tickMidChannel[1])).attr("stroke", "#8a8a8a").attr("stroke-width", 1.2);
  g.append("line").attr("x1", x(chT[0])).attr("y1", y(tickLowerChannel[0]))
    .attr("x2", x(chT[1])).attr("y2", y(tickLowerChannel[1])).attr("stroke", "#8ccc3c").attr("stroke-width", 1.3);
  candles(g, y, tickClose, openFrom(tickClose, tickFirstOpen), tickHigh, tickLow);
  hLine(g, y, tickZero, "#ffff00", 2.5);
  lineAt(g, y, tickMaTime, tickMaValue, "#1a1aee", 2.5);
}
// --- ADD panel ---
{
  const P = panels[1], g = P.g, y = P.y;
  hLine(g, y, addZero, "#0c0cb4", 3);
  lineAt(g, y, addAvgTime, addAvgValue, "#d08a2a", 1.2);
  lineAt(g, y, addTime, addValue, "#ffffff", 2.2);
}
// --- TRIN panel ---
{
  const P = panels[2], g = P.g, y = P.y;
  lineAt(g, y, trinLineTime, trinLineValue, "#1414dc", 2.5);
  const op = trinClose.map((c, i) => i < trinOpenEarly.length ? trinOpenEarly[i] : trinClose[i - 1]);
  candles(g, y, trinClose, op, null, null);
  hLine(g, y, trinLevel, "#ffff00", 2.5);
}
// --- ES panel ---
{
  const P = panels[3], g = P.g, y = P.y;
  candles(g, y, esClose, openFrom(esClose, esFirstOpen), null, null);
  lineAt(g, y, esOverlayTime, esOverlayValue, "#f0a020", 2.2);
  hLine(g, y, esLevel, "#0a0ae6", 3);
}
// --- TICKDJ panel ---
{
  const P = panels[4], g = P.g, y = P.y;
  candles(g, y, tickdjClose, openFrom(tickdjClose, tickdjFirstOpen), tickdjHigh, tickdjLow);
  hLine(g, y, tickdjZero, "#1a1ae6", 1.5);
  lineAt(g, y, tickdjMaTime, tickdjMaValue, "#1a1aee", 2.5);
}
// --- YM panel ---
{
  const P = panels[5], g = P.g, y = P.y;
  candles(g, y, ymClose, openFrom(ymClose, ymFirstOpen), null, null);
}

// --- frame lines ---
const frame = svg.append("g").attr("shape-rendering", "crispEdges");
[27, 215, 404, 593, 782, 971].forEach(v => {
  frame.append("line").attr("x1", 0).attr("x2", 1600).attr("y1", v + 0.5).attr("y2", v + 0.5)
    .attr("stroke", "#ffffff").attr("stroke-width", 1);
});
frame.append("line").attr("x1", 0).attr("x2", PLOT_R).attr("y1", 1138.5).attr("y2", 1138.5).attr("stroke", "#fff");
frame.append("line").attr("x1", 0.5).attr("x2", 0.5).attr("y1", 27).attr("y2", 1138).attr("stroke", "#fff");

// --- right axes (labels hidden by the price tags in the original are left out) ---
const axisSpecs = [
  {vals: [1000, 500, 0, -1000], fmt: v => String(v)},
  {vals: [0, -500, -1000, -1500], fmt: v => v === 0 ? "0" : v.toFixed(2)},
  {vals: [3, 2, 1], fmt: v => v.toFixed(2)},
  {vals: [1300, 1298, 1296, 1292, 1290, 1288], fmt: v => v.toFixed(2)},
  {vals: [20, 10, 0, -10, -20], fmt: v => String(v)},
  {vals: [12000, 11980, 11960, 11940, 11920, 11900], fmt: v => String(v)}
];
panels.forEach((P, k) => {
  const ax = d3.axisRight(P.y).tickValues(axisSpecs[k].vals).tickFormat(axisSpecs[k].fmt)
    .tickSize(5).tickSizeOuter(0).tickPadding(2);
  const ag = svg.append("g").attr("transform", `translate(${PLOT_R + 0.5},0)`).call(ax);
  ag.select(".domain").attr("stroke", "#fff").attr("d", `M0,${P.top}V${P.bottom}`);
  ag.selectAll(".tick line").attr("stroke", "#fff");
  ag.selectAll(".tick text").attr("fill", "#fff").attr("font-size", 11)
    .attr("font-family", "Liberation Sans, Arial, sans-serif");
  svg.append("text").attr("x", 4).attr("y", P.ly).attr("fill", "#fff").attr("font-size", 11)
    .text(panelNames[k]);
});

// --- x axis ---
const xa = d3.axisBottom(x).tickValues(xTickTimes.map(T)).tickFormat(d3.timeFormat("%H:%M"))
  .tickSize(5).tickSizeOuter(0).tickPadding(4);
const xg = svg.append("g").attr("transform", "translate(0,1138.5)").call(xa);
xg.select(".domain").remove();
xg.selectAll(".tick line").attr("stroke", "#fff");
xg.selectAll(".tick text").attr("fill", "#fff").attr("font-size", 11)
  .attr("font-family", "Liberation Sans, Arial, sans-serif");

// --- price tags ---
function tag(yPos, txt, fill, stroke, color) {
  const g = svg.append("g");
  const t = g.append("text").attr("x", 1546).attr("y", yPos + 4).attr("fill", color)
    .attr("font-size", 11).text(txt);
  const w = t.node().getComputedTextLength();
  g.insert("path", "text")
    .attr("d", `M${PLOT_R},${yPos}L${PLOT_R + 7},${yPos - 7}L${1548 + w},${yPos - 7}L${1548 + w},${yPos + 7}L${PLOT_R + 7},${yPos + 7}Z`)
    .attr("fill", fill).attr("stroke", stroke).attr("stroke-width", 1);
}
tag(panels[0].y(tickLast), String(tickLast), "#ffff00", "#ffff00", "#000");
tag(panels[1].y(addLast), addLast.toFixed(2), "#7cf000", "#7cf000", "#000");
tag(panels[2].y(trinLineValue[trinLineValue.length - 1]), trinLineTag, "#0000ff", "#ffffff", "#fff");
tag(panels[2].y(trinLast), trinLast.toFixed(2), "#000", "#ffffff", "#fff");
tag(panels[3].y(+esLast), esLast, "#000", "#ffffff", "#fff");
tag(panels[4].y(tickdjLast), String(tickdjLast), "#000", "#ffffff", "#fff");
tag(panels[5].y(+ymLast), ymLast, "#000", "#ffffff", "#fff");

// --- title & copyright ---
svg.append("text").attr("x", 388).attr("y", 19).attr("fill", "#fff").attr("font-size", 18)
  .attr("font-family", "Liberation Sans Narrow, Arial Narrow, Liberation Sans, sans-serif")
  .attr("textLength", 806).attr("lengthAdjust", "spacingAndGlyphs").text(titleText);
svg.append("text").attr("x", 3).attr("y", 1134).attr("fill", "#fff").attr("font-size", 11)
  .text("\u00A9 2011 NinjaTrader, LLC");
</script></body></html>
